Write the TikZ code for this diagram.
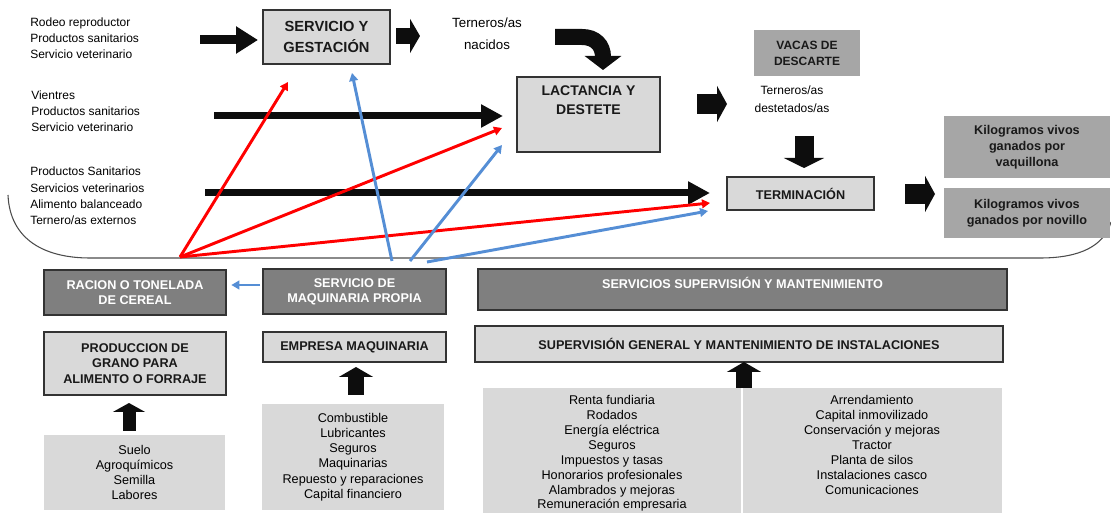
\documentclass[tikz,border=0pt]{standalone}
\usepackage{fontspec}
\setmainfont{Liberation Sans}
\usetikzlibrary{arrows.meta}
\definecolor{boxlight}{RGB}{217,217,217}
\definecolor{boxmid}{RGB}{166,166,166}
\definecolor{boxdark}{RGB}{127,127,127}
\definecolor{arrblue}{RGB}{85,142,213}
\definecolor{arrred}{RGB}{255,0,0}
\begin{document}
\begin{tikzpicture}[x=0.75pt,y=-0.75pt,
    lbox/.style={draw=black!80,fill=boxlight,line width=0.8pt,inner sep=0pt,outer sep=0pt},
    mbox/.style={fill=boxmid,inner sep=0pt,outer sep=0pt},
    dbox/.style={draw=black!80,fill=boxdark,line width=0.8pt,inner sep=0pt,outer sep=0pt},
    ttl/.style={font=\bfseries\fontsize{9.5pt}{11.5pt}\selectfont,align=center,text=black!90},
    lst/.style={font=\fontsize{9pt}{12.2pt}\selectfont,align=left,inner sep=0pt},
    clst/.style={font=\fontsize{9.5pt}{11.4pt}\selectfont,align=center,inner sep=0pt},
    fat/.style n args={3}{draw=black!95,line width=#1,-{Triangle[length=#2,width=#3]}},
    redarr/.style={draw=arrred,line width=2.2pt,-{Triangle[length=6pt,width=6.5pt]}},
    bluearr/.style={draw=arrblue,line width=2.2pt,-{Triangle[length=6pt,width=6.5pt]}}]
  \useasboundingbox (0,0) rectangle (1111,513);

  % contorno del sistema
  \draw[black!70,line width=0.8pt] (8,195) .. controls (10,240) and (45,258) .. (90,258)
    -- (1040,258) .. controls (1080,258) and (1104,246) .. (1111,222);

  % etapas
  \node[lbox,ttl,minimum width=95.25pt,minimum height=40.5pt,
    font=\bfseries\fontsize{11pt}{15.5pt}\selectfont] (servgest) at (326.5,37) {SERVICIO Y\\GESTACIÓN};
  \node[lbox,minimum width=107.25pt,minimum height=56.25pt] (lactancia) at (588.5,114.5) {};
  \node[ttl,font=\bfseries\fontsize{10.5pt}{14.2pt}\selectfont] (lactanciaT) at (588.5,100) {LACTANCIA Y\\DESTETE};
  \node[mbox,ttl,minimum width=79.5pt,minimum height=34.5pt,
    font=\bfseries\fontsize{9pt}{12pt}\selectfont] (vacas) at (807,53) {VACAS DE\\DESCARTE};
  \node[lbox,ttl,minimum width=110.25pt,minimum height=24.75pt] (terminacion) at (800.5,193.5) {TERMINACIÓN};
  \node[mbox,ttl,minimum width=124.5pt,minimum height=46.5pt,
    font=\bfseries\fontsize{9.5pt}{12pt}\selectfont] (kgvaq) at (1027,147) {Kilogramos vivos\\ganados por\\vaquillona};
  \node[mbox,ttl,minimum width=124.5pt,minimum height=37.5pt,
    font=\bfseries\fontsize{9.5pt}{12pt}\selectfont] (kgnov) at (1027,213) {Kilogramos vivos\\ganados por novillo};

  % insumos
  \node[lst,anchor=west] (ins1) at (30,38) {Rodeo reproductor\\Productos sanitarios\\Servicio veterinario};
  \node[lst,anchor=west] (ins2) at (31,111) {Vientres\\Productos sanitarios\\Servicio veterinario};
  \node[lst,anchor=west] (ins3) at (30,196) {Productos Sanitarios\\Servicios veterinarios\\Alimento balanceado\\Ternero/as externos};
  \node[font=\fontsize{10pt}{16.5pt}\selectfont,align=center] (nacidos) at (487,34) {Terneros/as\\nacidos};
  \node[font=\fontsize{9pt}{13.5pt}\selectfont,align=center] (destetados) at (792,99) {Terneros/as\\destetados/as};

  % servicios de apoyo
  \node[dbox,ttl,text=white,minimum width=136.5pt,minimum height=33.75pt] (racion) at (135,292.5) {RACION O TONELADA\\DE CEREAL};
  \node[dbox,ttl,text=white,minimum width=137.25pt,minimum height=33.75pt] (servmaq) at (354.5,291.5) {SERVICIO DE\\MAQUINARIA PROPIA};
  \node[lbox,ttl,minimum width=136.5pt,minimum height=47.25pt] (prodgrano) at (135,363.5) {PRODUCCION DE\\GRANO PARA\\ALIMENTO O FORRAJE};
  \node[lbox,ttl,minimum width=137.25pt,minimum height=22.5pt] (empmaq) at (354.5,347) {EMPRESA MAQUINARIA};
  \node[fill=boxlight,clst,minimum width=135.75pt,minimum height=56.25pt] (insgrano) at (134.5,472.5) {Suelo\\Agroquímicos\\Semilla\\Labores};
  \node[fill=boxlight,clst,minimum width=136.5pt,minimum height=79.5pt] (insmaq) at (353,457) {Combustible\\Lubricantes\\Seguros\\Maquinarias\\Repuesto y reparaciones\\Capital financiero};
  \node[dbox,minimum width=396.75pt,minimum height=30.75pt] (servsup) at (742.5,289.5) {};
  \node[ttl,text=white] (servsupT) at (742.5,283) {SERVICIOS SUPERVISIÓN Y MANTENIMIENTO};
  \node[lbox,ttl,minimum width=396pt,minimum height=27pt] (supgen) at (739,344) {SUPERVISIÓN GENERAL Y MANTENIMIENTO DE INSTALACIONES};
  \node[fill=boxlight,inner sep=0pt,minimum width=389.25pt,minimum height=93.75pt] (costos) at (742.5,450.5) {};
  \draw[white,line width=1pt] (742,388) -- (costos.south -| 742,0);
  \node[clst,anchor=north,font=\fontsize{9.5pt}{11.2pt}\selectfont] (costosA) at (612,395) {Renta fundiaria\\Rodados\\Energía eléctrica\\Seguros\\Impuestos y tasas\\Honorarios profesionales\\Alambrados y mejoras\\Remuneración empresaria};
  \node[clst,anchor=north,font=\fontsize{9.5pt}{11.2pt}\selectfont] (costosB) at (872,395) {Arrendamiento\\Capital inmovilizado\\Conservación y mejoras\\Tractor\\Planta de silos\\Instalaciones casco\\Comunicaciones};

  % extremos de flechas
  \coordinate (f1a) at (200,40);  \coordinate (f1b) at (258,40);
  \coordinate (f2a) at (214,116); \coordinate (f2b) at (503,116);
  \coordinate (f3a) at (205,193); \coordinate (f3b) at (710,193);
  \coordinate (b1a) at (396,36);  \coordinate (b1b) at (420,36);
  \coordinate (b2a) at (697,104); \coordinate (b2b) at (727,104);
  \coordinate (b3a) at (804,136); \coordinate (b3b) at (804,168);
  \coordinate (b4a) at (905,194); \coordinate (b4b) at (935,194);
  \coordinate (u1a) at (129,431); \coordinate (u1b) at (129,403);
  \coordinate (u2a) at (356,395); \coordinate (u2b) at (356,367);
  \coordinate (u3a) at (744,388); \coordinate (u3b) at (744,362);
  \coordinate (rsrc) at (180,257);
  \coordinate (r1) at (288,82); \coordinate (r2) at (502,128); \coordinate (r3) at (710,203);
  \coordinate (bs1) at (392,261); \coordinate (bs2) at (410,261); \coordinate (bs3) at (427,262);
  \coordinate (t1) at (352,73); \coordinate (t2) at (502,145); \coordinate (t3) at (708,211);

  % flechas gruesas
  \draw[fat={6.75pt}{16.5pt}{19.5pt}] (f1a) -- (f1b);
  \draw[fat={5.25pt}{16.5pt}{16.5pt}] (f2a) -- (f2b);
  \draw[fat={5.25pt}{16.5pt}{16.5pt}] (f3a) -- (f3b);
  \draw[fat={12pt}{7.5pt}{25.5pt}] (b1a) -- (b1b);
  \draw[fat={15pt}{7.5pt}{27pt}] (b2a) -- (b2b);
  \draw[fat={14.25pt}{7.5pt}{30pt}] (b3a) -- (b3b);
  \draw[fat={15pt}{7.5pt}{27pt}] (b4a) -- (b4b);
  \draw[fat={9.75pt}{6.75pt}{24pt}] (u1a) -- (u1b);
  \draw[fat={12pt}{7.5pt}{25.5pt}] (u2a) -- (u2b);
  \draw[fat={12pt}{7.5pt}{25.5pt}] (u3a) -- (u3b);
  \draw[fat={12pt}{10.5pt}{27pt}] (555,37) -- (582,37) .. controls (595,37) and (603,45) .. (603,57) -- (603,70);

  % flechas de servicios
  \draw[redarr] (rsrc) -- (r1);
  \draw[redarr] (rsrc) -- (r2);
  \draw[redarr] (rsrc) -- (r3);
  \draw[bluearr] (bs1) -- (t1);
  \draw[bluearr] (bs2) -- (t2);
  \draw[bluearr] (bs3) -- (t3);
  \draw[bluearr] (servmaq.west |- 0,285) ++(-3,0) -- ([xshift=4pt]racion.east |- 0,285);
\end{tikzpicture}
\end{document}
